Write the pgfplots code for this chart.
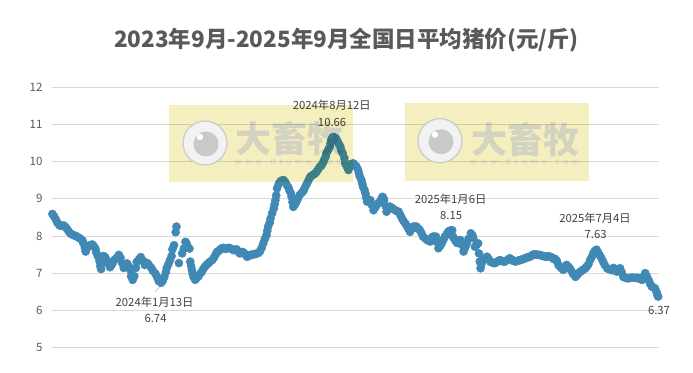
\documentclass[border=0pt]{standalone}
\usepackage{pgfplots}
\pgfplotsset{compat=1.18}
\usepackage{fontspec}
\setmainfont{Noto Sans CJK SC}
\definecolor{ptblue}{RGB}{64,137,181}
\definecolor{txtgray}{RGB}{89,89,89}
\definecolor{lblgray}{RGB}{64,64,64}
\definecolor{gridgray}{RGB}{217,217,217}
\definecolor{wmyellow}{RGB}{245,239,192}
\definecolor{wmtext}{RGB}{220,226,255}
\pgfplotstableread{
day price
0 8.59
2 8.53
4 8.45
6 8.36
8 8.31
9 8.28
12 8.27
14 8.28
16 8.24
18 8.19
20 8.12
22 8.07
24 8.04
27 8.01
29 8.00
32 7.96
34 7.93
37 7.88
38 7.81
40 7.68
41 7.58
42 7.65
44 7.71
46 7.75
49 7.77
51 7.73
53 7.66
54 7.56
56 7.46
58 7.33
59 7.19
60 7.11
62 7.27
63 7.46
65 7.43
67 7.35
69 7.27
71 7.16
73 7.22
75 7.30
77 7.37
80 7.43
82 7.49
84 7.41
86 7.27
88 7.14
90 7.19
92 7.26
94 7.19
96 7.09
97 6.92
99 6.82
101 6.92
103 7.14
104 7.30
107 7.38
109 7.43
112 7.33
114 7.22
117 7.27
119 7.22
122 7.14
124 7.06
127 6.99
129 6.90
131 6.79
134 6.74
136 6.79
138 6.90
140 7.03
141 7.14
143 7.24
145 7.35
147 7.46
148 7.64
150 7.75
152 8.10
153 8.25
156 7.27
160 7.53
162 7.66
164 7.84
165 7.81
166 7.76
169 7.66
170 7.31
171 7.19
172 7.08
173 6.98
174 6.90
176 6.82
178 6.87
180 6.91
182 6.98
184 7.03
186 7.11
188 7.17
190 7.22
192 7.26
194 7.30
197 7.35
199 7.41
201 7.49
203 7.57
205 7.59
207 7.64
209 7.67
211 7.68
213 7.65
215 7.66
217 7.68
219 7.67
221 7.65
223 7.62
225 7.62
227 7.64
229 7.59
231 7.53
234 7.57
236 7.55
238 7.50
240 7.44
242 7.46
244 7.49
246 7.49
248 7.51
250 7.51
252 7.53
254 7.54
256 7.59
258 7.68
260 7.80
262 7.92
264 8.02
265 8.14
266 8.25
268 8.36
269 8.47
271 8.61
273 8.74
274 8.85
275 8.96
276 9.09
277 9.28
279 9.39
281 9.46
283 9.49
285 9.50
287 9.45
289 9.37
291 9.30
292 9.23
294 9.15
295 9.05
296 8.91
297 8.78
299 8.84
301 8.92
303 9.02
305 9.10
308 9.17
310 9.23
312 9.33
314 9.41
316 9.50
318 9.59
320 9.62
322 9.65
324 9.68
326 9.73
328 9.80
330 9.86
332 9.90
334 9.98
335 10.04
337 10.13
338 10.22
340 10.31
342 10.40
343 10.49
344 10.58
345 10.62
346 10.66
347 10.65
349 10.63
350 10.60
351 10.56
353 10.48
355 10.40
356 10.31
358 10.22
360 10.09
361 9.95
363 9.87
365 9.77
366 9.85
368 9.93
371 9.95
373 9.90
375 9.86
377 9.77
378 9.68
379 9.60
381 9.50
382 9.41
383 9.32
385 9.23
386 9.14
387 9.03
388 8.92
390 8.94
392 8.96
394 8.83
396 8.69
398 8.76
400 8.83
402 8.88
404 8.92
406 9.01
407 9.05
408 9.02
409 8.96
411 8.80
412 8.65
414 8.72
416 8.79
419 8.75
422 8.70
424 8.67
427 8.65
429 8.56
431 8.47
433 8.40
435 8.34
437 8.27
439 8.19
441 8.11
443 8.19
445 8.25
447 8.25
449 8.25
451 8.20
453 8.16
455 8.08
457 7.98
460 7.93
462 7.89
464 7.87
466 7.85
467 7.92
469 7.98
471 7.98
473 7.98
474 7.84
476 7.67
478 7.73
480 7.80
482 7.89
484 7.98
486 8.04
488 8.11
490 8.14
492 8.15
493 8.15
494 7.98
495 7.94
497 7.87
499 7.81
501 7.85
503 7.89
505 7.76
507 7.58
509 7.69
511 7.80
513 7.92
516 8.07
518 8.01
519 7.94
521 7.71
523 7.76
525 7.80
526 7.53
527 7.31
528 7.13
529 7.25
531 7.35
534 7.41
536 7.44
538 7.38
540 7.31
542 7.29
544 7.27
546 7.27
548 7.30
550 7.33
552 7.35
554 7.33
556 7.31
558 7.31
560 7.34
562 7.37
564 7.40
566 7.37
568 7.33
571 7.31
573 7.33
575 7.34
577 7.35
579 7.37
581 7.38
583 7.40
585 7.42
587 7.43
589 7.44
591 7.47
593 7.50
595 7.50
597 7.50
599 7.49
601 7.49
603 7.47
605 7.46
608 7.44
610 7.45
612 7.45
614 7.44
616 7.42
618 7.38
620 7.38
622 7.33
624 7.22
626 7.17
628 7.13
630 7.09
632 7.15
634 7.22
636 7.18
638 7.13
640 7.06
642 6.98
645 6.90
647 6.95
649 7.00
651 7.04
653 7.07
655 7.10
657 7.13
659 7.18
661 7.24
663 7.35
665 7.43
667 7.54
669 7.60
671 7.63
673 7.55
675 7.48
677 7.40
679 7.31
681 7.22
684 7.13
686 7.11
688 7.10
690 7.08
692 7.14
694 7.07
696 7.04
698 7.08
700 7.13
702 7.02
704 6.90
706 6.88
708 6.87
710 6.86
712 6.87
714 6.88
716 6.88
719 6.87
721 6.88
723 6.86
725 6.84
727 6.82
729 6.91
731 7.00
733 6.91
735 6.82
737 6.72
739 6.64
741 6.62
743 6.59
745 6.49
746 6.41
747 6.37
}\pricedata
\begin{document}
\begin{tikzpicture}[x=1pt,y=1pt]
\useasboundingbox (0,0) rectangle (693,372);
\node[font=\fontsize{22.5}{26}\selectfont\bfseries, text=txtgray] at (346.5,332) {2023年9月-2025年9月全国日平均猪价(元/斤)};
\begin{axis}[
  at={(52pt,24.4pt)}, anchor=south west,
  scale only axis, width=607pt, height=260.6pt,
  xmin=-0.5, xmax=748, ymin=5, ymax=12,
  ytick={5,6,...,12}, xtick=\empty,
  ymajorgrids, grid style={gridgray, line width=0.75pt},
  axis line style={draw=none}, major tick length=0pt,
  clip=false,
  /pgf/number format/assume math mode=true,
  yticklabel style={font=\fontsize{11.5}{12}\selectfont, text=txtgray, xshift=-6pt},
]
\addplot[ptblue, only marks, mark=*, mark size=4.1pt, mark options={draw=none, fill=ptblue}] table[x=day, y=price] {\pricedata};
\draw[gray!60, line width=0.6pt] (axis cs:133.7,6.66) -- (axis cs:126.6,6.50);
\begin{scope}[font=\fontsize{11.3}{12}\selectfont, text=lblgray]
\node at (axis cs:126,6.233) {2024年1月13日};
\node at (axis cs:127.2,5.787) {6.74};
\node at (axis cs:344.5,11.498) {2024年8月12日};
\node at (axis cs:344.9,11.052) {10.66};
\node at (axis cs:491,8.984) {2025年1月6日};
\node at (axis cs:491.6,8.543) {8.15};
\node at (axis cs:669.1,8.473) {2025年7月4日};
\node at (axis cs:669.8,8.052) {7.63};
\node at (axis cs:748,6.010) {6.37};
\end{scope}
\end{axis}
% watermarks
\begin{scope}[blend mode=multiply]
\fill[wmyellow] (169,190.3) rectangle (352.7,267);
\fill[wmyellow] (405,191.3) rectangle (589,268.7);
\end{scope}
\foreach \cx/\cy in {205/229, 440/231.3}{
  \fill[black!5, draw=black!20, line width=1.3pt] (\cx,\cy) circle (22);
  \fill[black!21] (\cx+1,\cy-1) circle (12.5);
  \fill[white] (\cx-5,\cy+6) circle (3.2);
}
\begin{scope}[blend mode=multiply]
\node[text=wmtext, font=\fontsize{36}{36}\selectfont\bfseries] at (289.2,233) {大畜牧};
\node[text=wmtext, font=\fontsize{8}{8}\selectfont\addfontfeature{LetterSpace=45}] at (289.5,210.3) {www.dxumu.com};
\node[text=wmtext, font=\fontsize{36}{36}\selectfont\bfseries] at (525,232.7) {大畜牧};
\node[text=wmtext, font=\fontsize{8}{8}\selectfont\addfontfeature{LetterSpace=45}] at (525,211) {www.dxumu.com};
\end{scope}
\end{tikzpicture}
\end{document}
